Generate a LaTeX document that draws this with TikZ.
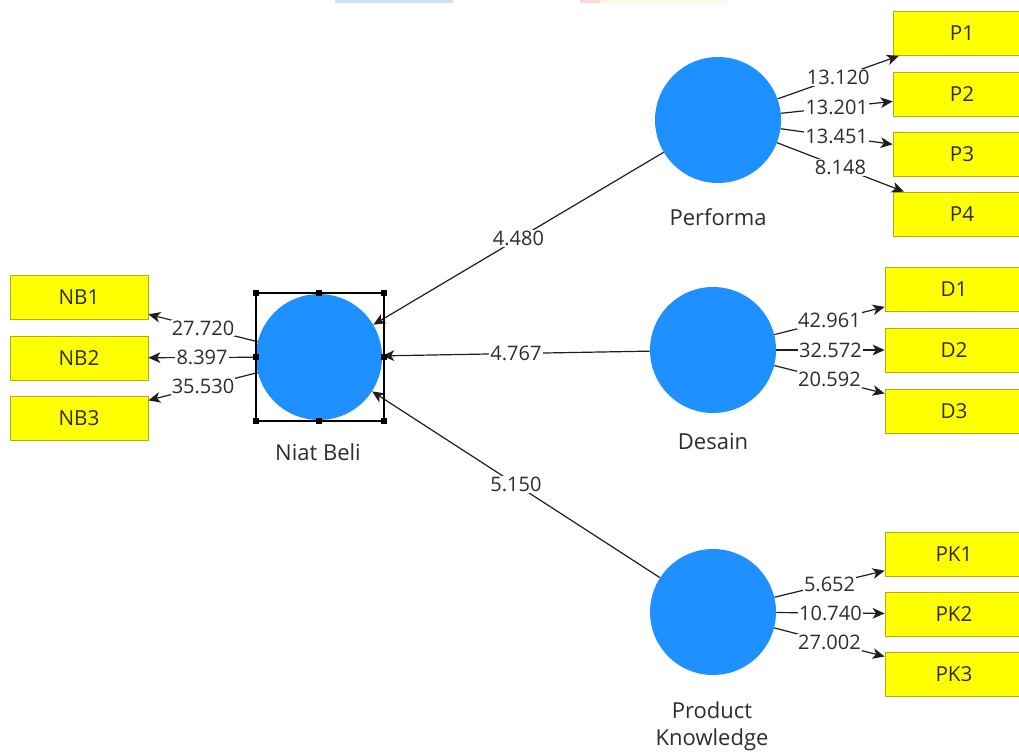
\documentclass[tikz,border=0pt]{standalone}
\usepackage{fontspec}
\setmainfont{Open Sans}
\usetikzlibrary{arrows.meta}
\definecolor{lvblue}{RGB}{30,144,255}
\definecolor{mvborder}{RGB}{175,175,20}
\definecolor{mvfill}{RGB}{255,255,0}
\definecolor{txt}{RGB}{45,45,45}
\definecolor{linec}{RGB}{30,30,30}
\definecolor{topblue}{RGB}{205,224,246}
\definecolor{topcream}{RGB}{255,246,228}
\definecolor{toppink}{RGB}{255,215,215}
\tikzset{
  lv/.style={circle, fill=lvblue, minimum size=94.5pt, inner sep=0pt},
  mv/.style={rectangle, draw=mvborder, line width=0.6pt, fill=mvfill, minimum width=103.5pt, minimum height=33pt, inner sep=0pt, font=\fontsize{15.5}{18}\selectfont, text=txt},
  lvname/.style={font=\fontsize{16.5}{19}\selectfont, text=txt, inner sep=0pt},
  lbl/.style={fill=white, inner sep=0.8pt, font=\fontsize{15}{17}\selectfont, text=txt},
  arr/.style={draw=linec, line width=0.9pt, -{Stealth[length=9pt,width=8pt,inset=2.5pt]}},
  handle/.style={fill=black, minimum size=4.8pt, inner sep=0pt, rectangle}
}
\begin{document}
\begin{tikzpicture}[x=0.75pt, y=-0.75pt]
\useasboundingbox (0,0) rectangle (1019,754);
\clip (0,0) rectangle (1019,754);
\fill[white] (0,0) rectangle (1019,754);
% faint top bars
\fill[topblue] (335,0) rectangle (453,3);
\fill[topcream] (590,0) rectangle (727,3);
\fill[toppink] (580,0) rectangle (600,3);

% latent variables
\node[lv] (niat) at (319,357) {};
\node[lv] (perf) at (718,120) {};
\node[lv] (des) at (713,350) {};
\node[lv] (pk) at (713,612) {};

\node[lvname] (niatl) at (318,452) {Niat Beli};
\node[lvname] (perfl) at (718,217) {Performa};
\node[lvname] (desl) at (713,442) {Desain};
\node[lvname] (pkl1) at (712,710) {Product};
\node[lvname] (pkl2) at (712,740) {Knowledge};

% indicators
\node[mv] (nb1) at (79,297) {NB1};
\node[mv] (nb2) at (79,358) {NB2};
\node[mv] (nb3) at (79,418) {NB3};
\node[mv] (p1) at (962,33.5) {P1};
\node[mv] (p2) at (962,94) {P2};
\node[mv] (p3) at (962,154) {P3};
\node[mv] (p4) at (962,214) {P4};
\node[mv] (d1) at (954,289.5) {D1};
\node[mv] (d2) at (954,350) {D2};
\node[mv] (d3) at (954,411) {D3};
\node[mv] (pk1) at (954,554) {PK1};
\node[mv] (pk2) at (954,614) {PK2};
\node[mv] (pk3) at (954,674.5) {PK3};

% outer loadings
\draw[arr] (niat) -- node[lbl, midway] {27.720} (nb1);
\draw[arr] (niat) -- node[lbl, midway] {8.397} (nb2);
\draw[arr] (niat) -- node[lbl, midway] {35.530} (nb3);
\draw[arr] (perf) -- node[lbl, midway] {13.120} (p1);
\draw[arr] (perf) -- node[lbl, midway] {13.201} (p2);
\draw[arr] (perf) -- node[lbl, midway] {13.451} (p3);
\draw[arr] (perf) -- node[lbl, midway] {8.148} (p4);
\draw[arr] (des) -- node[lbl, midway] {42.961} (d1);
\draw[arr] (des) -- node[lbl, midway] {32.572} (d2);
\draw[arr] (des) -- node[lbl, midway] {20.592} (d3);
\draw[arr] (pk) -- node[lbl, midway] {5.652} (pk1);
\draw[arr] (pk) -- node[lbl, midway] {10.740} (pk2);
\draw[arr] (pk) -- node[lbl, midway] {27.002} (pk3);

% structural paths
\draw[arr] (perf) -- node[lbl, midway] {4.480} (niat);
\draw[arr] (des) -- node[lbl, midway] {4.767} (niat);
\draw[arr] (pk) -- node[lbl, midway] {5.150} (niat);

% selection frame
\draw[black, line width=0.8pt] (256,293) rectangle (384,421);
\foreach \hx/\hy [count=\i] in {256/293,319/293,384/293,256/357,384/357,256/421,319/421,384/421}
  \node[handle] (h\i) at (\hx,\hy) {};
\end{tikzpicture}
\end{document}
